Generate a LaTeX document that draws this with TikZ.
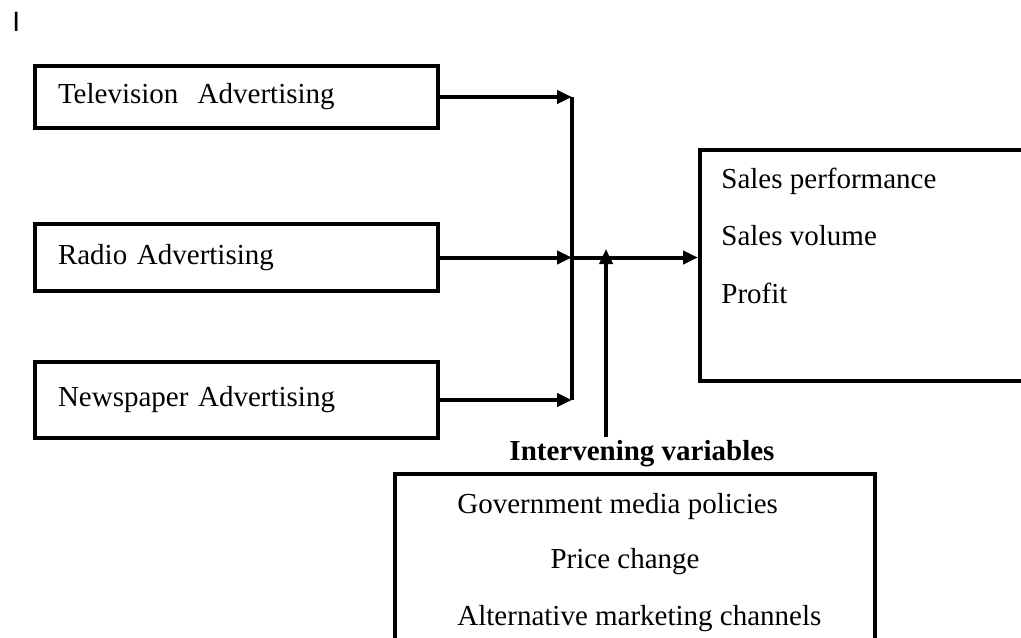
\documentclass[tikz,border=0pt]{standalone}
\usepackage{fontspec}
\setmainfont{Liberation Serif}
\setsansfont{Liberation Sans}
\usetikzlibrary{arrows.meta}

\tikzset{
  adbox/.style={draw, line width=2pt, inner xsep=11.5pt, text width=178.5pt, align=left},
  frame/.style={draw, line width=2pt},
  arr/.style={line width=2pt, -{Triangle[length=7.5pt,width=6.5pt]}},
  txt/.style={inner sep=0pt},
}

\begin{document}
\begin{tikzpicture}[x=0.5pt, y=-0.5pt, font=\fontsize{14.5pt}{17pt}\selectfont]
% Marco
\useasboundingbox (0,0) rectangle (1021,637);
\clip (0,0) rectangle (1021,637);
% Cursor
\node[txt, anchor=base west, font=\sffamily\fontsize{14pt}{16pt}\selectfont] (mark) at (12,32) {I};
% Publicidad
\node[adbox, minimum height=31pt] (tv) at (236.5,97) {Television\ \ Advertising};
\node[adbox, minimum height=33.5pt] (radio) at (236.5,257.5) {Radio Advertising};
\node[adbox, minimum height=38pt] (news) at (236.5,400) {Newspaper Advertising};
% Resultado
\node[frame, minimum width=170pt, minimum height=115.5pt] (result) at (870,265.5) {};
\node[txt, anchor=base west] (perf) at (721,188) {Sales performance};
\node[txt, anchor=base west] (vol) at (721,245) {Sales volume};
\node[txt, anchor=base west] (profit) at (721,303) {Profit};
% Variables intervinientes
\node[txt, anchor=base, font=\fontsize{14.5pt}{17pt}\selectfont\bfseries] (ivtitle) at (642,460) {Intervening variables};
\node[frame, minimum width=240pt, minimum height=93pt] (iv) at (635,567) {};
\node[txt, anchor=base west] (gov) at (457,513) {Government media policies};
\node[txt, anchor=base] (price) at (625,568) {Price change};
\node[txt, anchor=base west] (alt) at (457,625) {Alternative marketing channels};
% Flechas
\coordinate (bus) at (572,257.5);
\foreach \src in {tv,radio,news}
  \draw[arr] (\src.east) -- (\src.east -| bus);
\draw[line width=2pt] (tv.east -| bus) -- (news.east -| bus);
\draw[arr] (bus) -- (bus -| result.west);
\coordinate (ivfoot) at (606,437);
\coordinate (ivtip) at (606,249);
\draw[arr] (ivfoot) -- (ivtip);
\end{tikzpicture}
\end{document}
